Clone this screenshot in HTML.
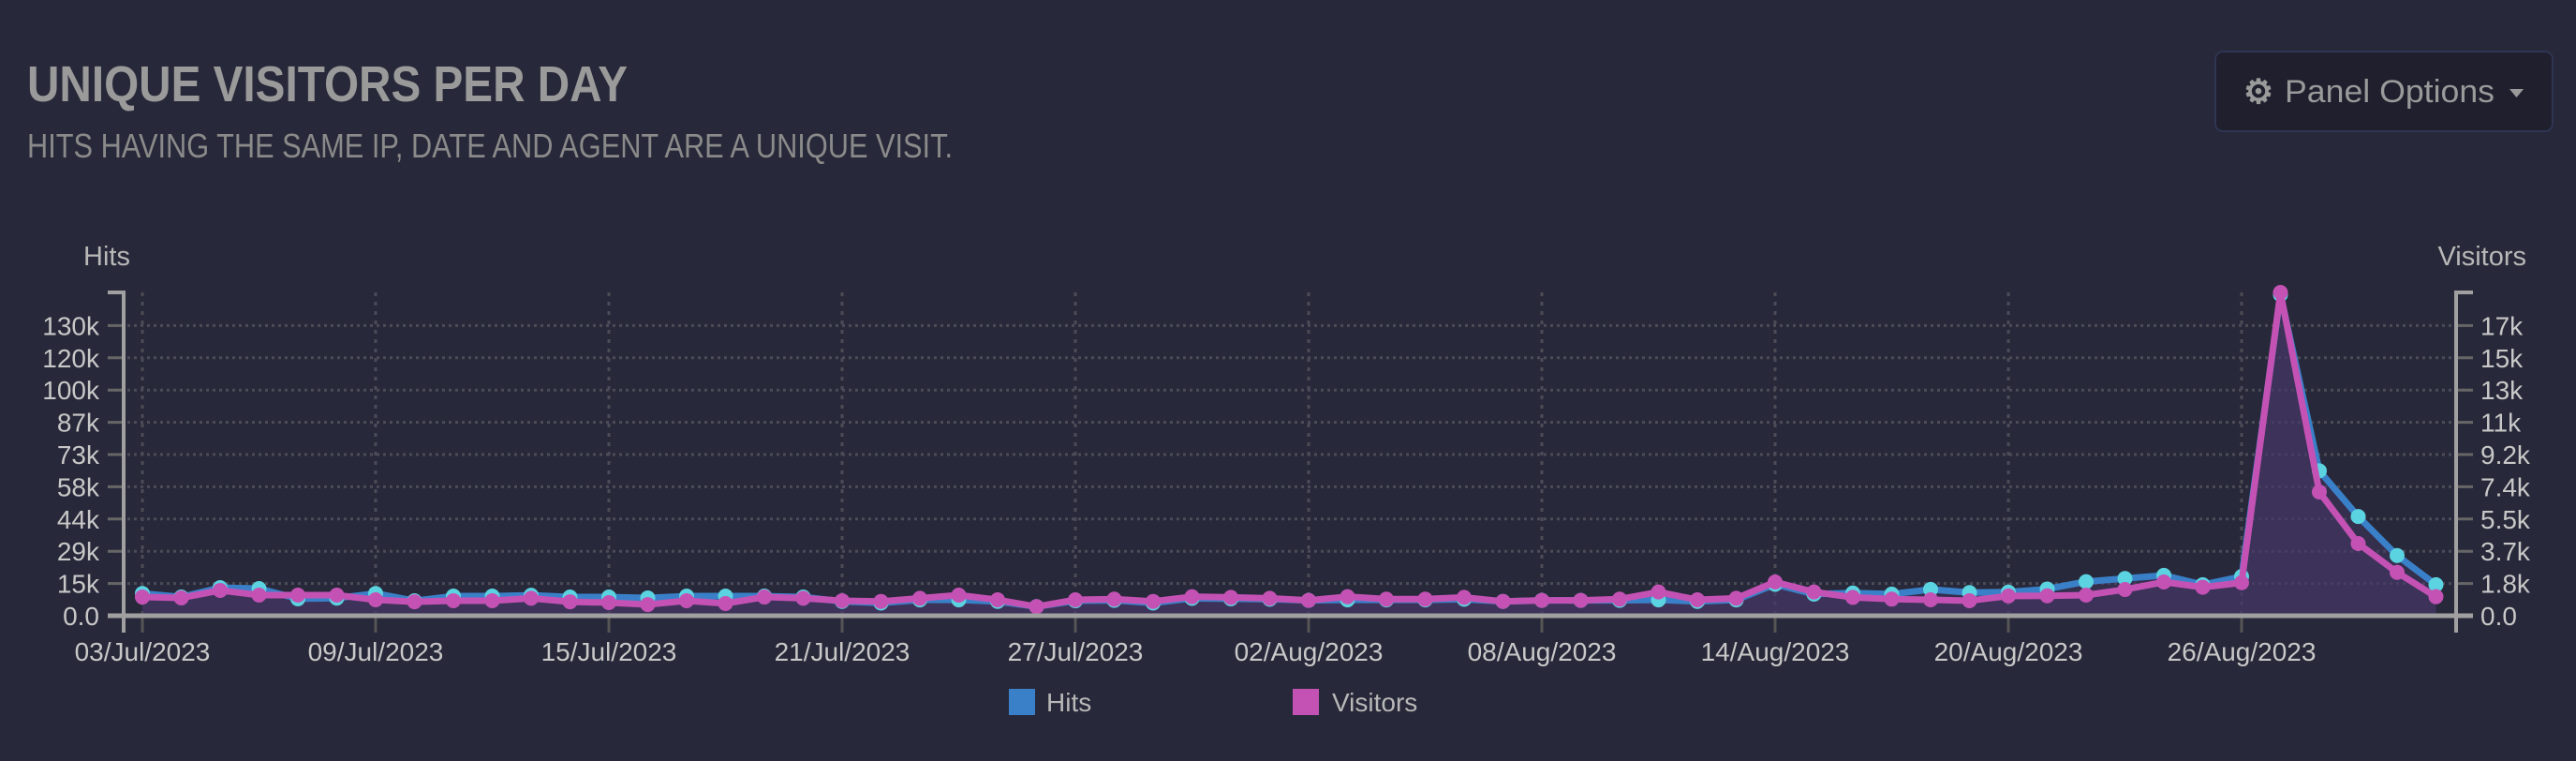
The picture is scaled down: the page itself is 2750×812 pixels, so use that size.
<!DOCTYPE html>
<html><head><meta charset="utf-8"><style>
html,body{margin:0;padding:0;background:#272839;width:2750px;height:812px;overflow:hidden}
svg{display:block;font-family:"Liberation Sans",sans-serif}
</style></head><body>
<svg id="chart" width="2750" height="812" viewBox="0 0 2750 812" xmlns="http://www.w3.org/2000/svg">
<rect width="2750" height="812" fill="#272839"/>
<text x="29" y="108" font-size="54" font-weight="bold" fill="#9a9a9a" textLength="641" lengthAdjust="spacingAndGlyphs">UNIQUE VISITORS PER DAY</text>
<text x="29" y="168" font-size="36" fill="#8a8a8a" textLength="988" lengthAdjust="spacingAndGlyphs">HITS HAVING THE SAME IP, DATE AND AGENT ARE A UNIQUE VISIT.</text>
<g>
<rect x="2365" y="55" width="360" height="85" rx="8" fill="#1f1f2e" stroke="#2f3552" stroke-width="2"/>
<text x="2411" y="110" font-size="36" font-weight="bold" fill="#9a9a9a" text-anchor="middle">⚙</text>
<text x="2439" y="109" font-size="34" fill="#9a9a9a" textLength="224" lengthAdjust="spacingAndGlyphs">Panel Options</text>
<path d="M2679 95 L2694 95 L2686.5 104 Z" fill="#9a9a9a"/>
</g>
<text x="89" y="283" font-size="29" fill="#b8b8b8">Hits</text>
<text x="2697" y="283" font-size="29" fill="#b8b8b8" text-anchor="end">Visitors</text>
<g id="grid"></g><g id="areas"></g><g id="lines"></g><g id="axes"></g>
<g>
<rect x="1077" y="735" width="28" height="28" fill="#3a80c8"/>
<text x="1117" y="759" font-size="28" fill="#b8b8b8">Hits</text>
<rect x="1380" y="735" width="28" height="28" fill="#c452b5"/>
<text x="1422" y="759" font-size="28" fill="#b8b8b8">Visitors</text>
</g>
</svg>
<script>
const dates = ["03/Jul/2023","09/Jul/2023","15/Jul/2023","21/Jul/2023","27/Jul/2023","02/Aug/2023","08/Aug/2023","14/Aug/2023","20/Aug/2023","26/Aug/2023"];
const hitsK = [10,8.4,12.6,12.2,7.6,7.9,10,6.7,8.8,8.8,9.2,8.4,8.4,8.0,8.8,8.8,8.8,8.4,6.4,5.7,7.1,7.1,6.4,4.1,6.7,6.9,5.7,7.8,7.6,7.4,6.9,7.1,7.1,7.1,7.4,6.4,6.9,6.9,6.9,7.1,6.4,7.1,14.1,9.7,10.2,9.7,11.8,10.4,10.6,12.0,15.3,16.7,18.1,13.9,17.6,144,65,44.5,27,13.9];
const visitorsK = [1.07,1.02,1.45,1.18,1.18,1.18,0.91,0.8,0.86,0.86,1.0,0.8,0.75,0.64,0.86,0.7,1.07,1.0,0.86,0.82,1.0,1.18,0.91,0.52,0.91,0.95,0.82,1.09,1.05,1.0,0.88,1.09,0.95,0.95,1.05,0.82,0.88,0.88,0.95,1.36,0.91,1.0,1.93,1.36,1.05,0.95,0.91,0.86,1.13,1.14,1.18,1.5,1.93,1.63,1.89,18.5,7.08,4.13,2.48,1.09];
const leftTicks = ["0.0","15k","29k","44k","58k","73k","87k","100k","120k","130k"];
const rightTicks = ["0.0","1.8k","3.7k","5.5k","7.4k","9.2k","11k","13k","15k","17k"];
const hitsMax = 145, visMax = 18.5;

const NS="http://www.w3.org/2000/svg";
const X0=152, DX=41.5, Y0=657, YTOP=312;
const xAt=i=>X0+i*DX;
const yHits=v=>Y0-(v/hitsMax)*(Y0-YTOP);
const yVis=v=>Y0-(v/visMax)*(Y0-YTOP);
const tickY=i=>Y0-i*34.4;
function mk(tag,attrs,parent){const e=document.createElementNS(NS,tag);for(const k in attrs)e.setAttribute(k,attrs[k]);parent.appendChild(e);return e;}
const grid=document.getElementById('grid'),areas=document.getElementById('areas'),lines=document.getElementById('lines'),axes=document.getElementById('axes');
leftTicks.forEach((t,i)=>{
  const y=tickY(i);
  if(i>0){const g=mk('line',{x1:115,x2:2640,y1:y,y2:y,stroke:'#4c4c58','stroke-width':3,'stroke-dasharray':'3 4'},grid);
  
  }
  const tl=mk('line',{x1:115,x2:132,y1:y,y2:y,stroke:'#666','stroke-width':3},axes);
  
  
  const tx=mk('text',{x:106,y:y+10,'font-size':28,fill:'#c8c8c8','text-anchor':'end'},axes);tx.textContent=t;
  
  
});
rightTicks.forEach((t,i)=>{
  const y=tickY(i);
  const tl=mk('line',{x1:2622,x2:2640,y1:y,y2:y,stroke:'#666','stroke-width':3},axes);
  
  
  const tx=mk('text',{x:2648,y:y+10,'font-size':28,fill:'#c8c8c8'},axes);tx.textContent=t;
  
  
});
dates.forEach((d,j)=>{
  const x=xAt(j*6);
  const g=mk('line',{x1:x,x2:x,y1:YTOP,y2:Y0,stroke:'#4c4c58','stroke-width':3,'stroke-dasharray':'4 6'},grid);
  
  
  const t=mk('line',{x1:x,x2:x,y1:Y0,y2:675,stroke:'#555','stroke-width':3},axes);
  
  
  const tx=mk('text',{x:x,y:705,'font-size':28,fill:'#c8c8c8','text-anchor':'middle'},axes);tx.textContent=d;
  
  
});
let a=mk('path',{d:`M115 ${YTOP} L132 ${YTOP} L132 675`,stroke:'#a0a0a0','stroke-width':4,fill:'none'},axes);


a=mk('path',{d:`M2640 ${YTOP} L2622 ${YTOP} L2622 675`,stroke:'#a0a0a0','stroke-width':4,fill:'none'},axes);


a=mk('line',{x1:115,x2:2640,y1:Y0,y2:Y0,stroke:'#a0a0a0','stroke-width':5},axes);


function series(vals,yf,lineC,ptC,name){
  const pts=vals.map((v,i)=>[xAt(i),yf(v)]);
  const ptsStr=pts.map(p=>p.join(',')).join(' L');
  const ar=mk('path',{d:`M${xAt(0)},${Y0} L${ptsStr} L${xAt(vals.length-1)},${Y0} Z`,fill:'rgba(70,55,105,0.45)'},areas);
  
  
  const ln=mk('path',{d:'M'+ptsStr,stroke:lineC,'stroke-width':7,fill:'none','stroke-linejoin':'round'},lines);
  
  
  pts.forEach(p=>{
    const c=mk('circle',{cx:p[0],cy:p[1],r:8,fill:ptC},lines);
    
    
  });
}
series(hitsK,yHits,'#3a80c8','#5bd3e0','hits');
series(visitorsK,yVis,'#c452b5','#c452b5','visitors');
</script>
</body></html>
